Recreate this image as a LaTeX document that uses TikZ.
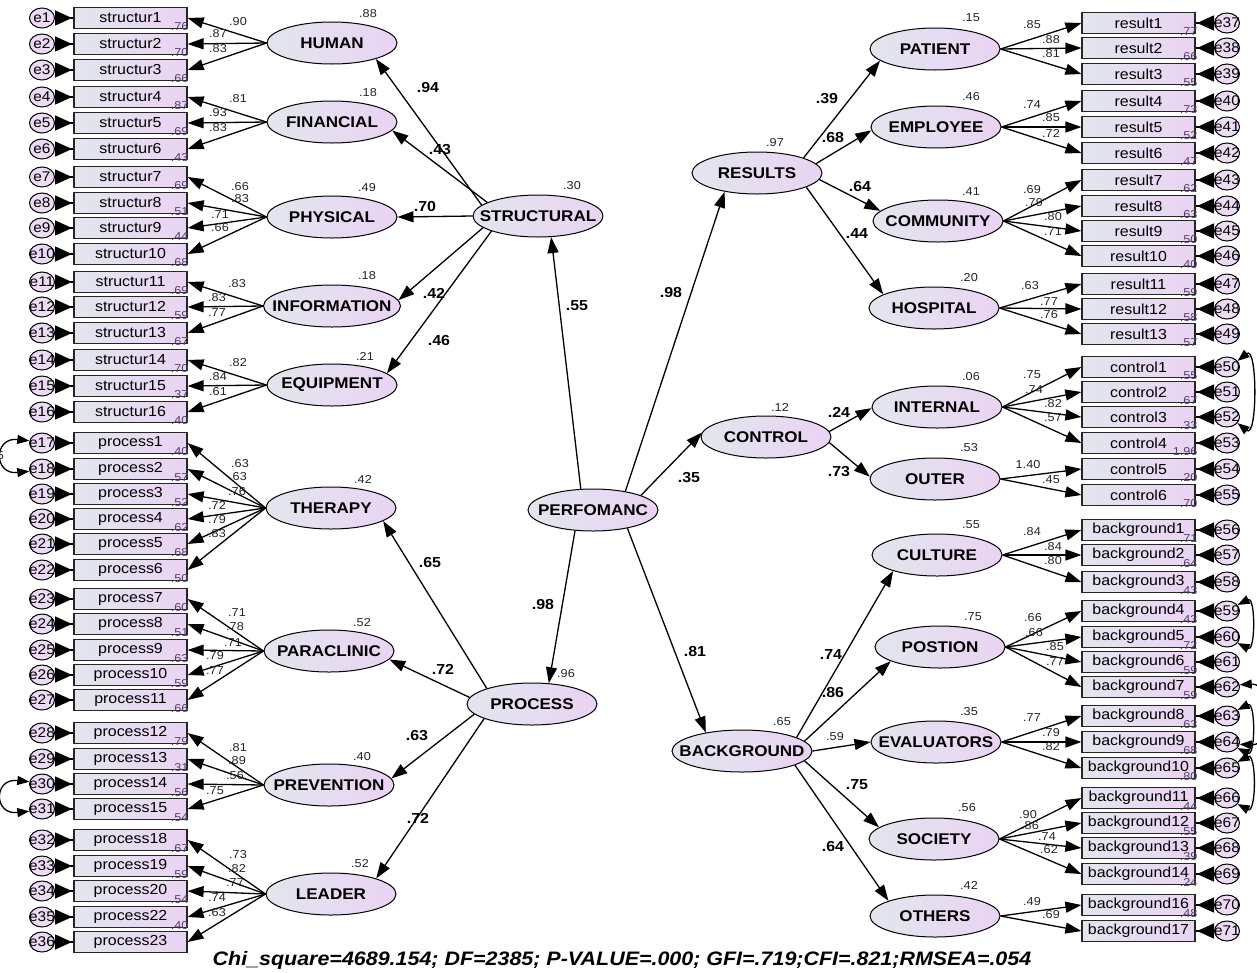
\documentclass[tikz,border=0pt]{standalone}
\usepackage{fontspec}
\setmainfont[FakeStretch=1.1]{Liberation Sans}
\usetikzlibrary{shapes.geometric,arrows.meta}
\definecolor{cL}{RGB}{226,230,238}
\definecolor{cR}{RGB}{234,211,243}
\definecolor{cE}{RGB}{237,218,245}
\definecolor{cRsq}{RGB}{85,65,110}
\definecolor{cT}{RGB}{35,35,35}
\begin{document}
\begin{tikzpicture}[x=1pt,y=-1pt,
  lat/.style={ellipse, draw=black, line width=1pt, left color=cL, right color=cR, minimum height=42pt, minimum width=130pt, inner sep=0pt, font=\fontsize{15.5}{16}\selectfont\bfseries},
  obs/.style={rectangle, draw=black!85, line width=1.2pt, left color=cL, right color=cR, minimum width=113pt, minimum height=21pt, inner sep=0pt, font=\fontsize{14.5}{15}\selectfont},
  err/.style={ellipse, draw=black, line width=1pt, fill=cE, minimum width=25pt, minimum height=20pt, inner sep=0pt, font=\fontsize{14}{14}\selectfont},
  pth/.style={line width=1.3pt, -{Triangle[length=16pt,width=11pt]}},
  errpath/.style={line width=1.3pt, {Triangle[reversed,length=17pt,width=15pt]}-},
  cov/.style={line width=1.3pt, {Triangle[length=12pt,width=9pt]}-{Triangle[length=12pt,width=9pt]}},
  ld/.style={font=\fontsize{11.5}{12}\selectfont, text=cT, inner sep=0pt},
  rsq/.style={font=\fontsize{11.5}{12}\selectfont, text=cRsq, inner sep=0pt, anchor=base east},
  sl/.style={font=\fontsize{14.5}{15}\selectfont\bfseries, inner sep=0pt}
]
\fill[white] (0,0) rectangle (1257,972);
\useasboundingbox (0,0) rectangle (1257,972);

% ---------- latent variables ----------
\node[lat] (HUMAN) at (332,43) {\makebox[0pt]{HUMAN}};
\node[lat] (FINANCIAL) at (332,122) {\makebox[0pt]{FINANCIAL}};
\node[lat] (PHYSICAL) at (332,217) {\makebox[0pt]{PHYSICAL}};
\node[lat, minimum width=137pt] (INFORMATION) at (332,306) {\makebox[0pt]{INFORMATION}};
\node[lat] (EQUIPMENT) at (332,385) {\makebox[0pt]{EQUIPMENT}};
\node[lat] (THERAPY) at (331,508) {\makebox[0pt]{THERAPY}};
\node[lat] (PARACLINIC) at (329,651) {\makebox[0pt]{PARACLINIC}};
\node[lat] (PREVENTION) at (329,785) {\makebox[0pt]{PREVENTION}};
\node[lat] (LEADER) at (331,894) {\makebox[0pt]{LEADER}};
\node[lat] (STRUCTURAL) at (538,216) {\makebox[0pt]{STRUCTURAL}};
\node[lat] (PERFOMANC) at (593,510) {\makebox[0pt]{PERFOMANC}};
\node[lat] (PROCESS) at (532,704) {\makebox[0pt]{PROCESS}};
\node[lat] (RESULTS) at (757,173) {\makebox[0pt]{RESULTS}};
\node[lat] (CONTROL) at (766,437) {\makebox[0pt]{CONTROL}};
\node[lat, minimum width=140pt] (BACKGROUND) at (742,751) {\makebox[0pt]{BACKGROUND}};
\node[lat] (PATIENT) at (935,49) {\makebox[0pt]{PATIENT}};
\node[lat] (EMPLOYEE) at (936,127) {\makebox[0pt]{EMPLOYEE}};
\node[lat] (COMMUNITY) at (938,221) {\makebox[0pt]{COMMUNITY}};
\node[lat] (HOSPITAL) at (934,308) {\makebox[0pt]{HOSPITAL}};
\node[lat] (INTERNAL) at (937,407) {\makebox[0pt]{INTERNAL}};
\node[lat] (OUTER) at (935,479) {\makebox[0pt]{OUTER}};
\node[lat] (CULTURE) at (937,555) {\makebox[0pt]{CULTURE}};
\node[lat] (POSTION) at (940,647) {\makebox[0pt]{POSTION}};
\node[lat] (EVALUATORS) at (936,742) {\makebox[0pt]{EVALUATORS}};
\node[lat] (SOCIETY) at (934,839) {\makebox[0pt]{SOCIETY}};
\node[lat] (OTHERS) at (935,916) {\makebox[0pt]{OTHERS}};

% ---------- latent R-squared ----------
\foreach \n/\v/\x/\y in {HUMAN/.88/368/14, FINANCIAL/.18/368/93, PHYSICAL/.49/367/188, INFORMATION/.18/367/276, EQUIPMENT/.21/365/356, THERAPY/.42/363/479, PARACLINIC/.52/362/623, PREVENTION/.40/362/757, LEADER/.52/360/864, STRUCTURAL/.30/572/186, PROCESS/.96/566/674, RESULTS/.97/775/143, CONTROL/.12/780/407, BACKGROUND/.65/782/722, PATIENT/.15/971/18, EMPLOYEE/.46/971/97, COMMUNITY/.41/971/192, HOSPITAL/.20/969/278, INTERNAL/.06/971/377, OUTER/.53/969/448, CULTURE/.55/971/525, POSTION/.75/973/617, EVALUATORS/.35/969/712, SOCIETY/.56/967/808, OTHERS/.42/969/885}
  \node[ld] (r\n) at (\x,\y) {\v};

% ---------- left indicators ----------
\foreach \i/\t/\y/\r in {1/structur1/18/.76, 2/structur2/44/.70, 3/structur3/70/.66, 4/structur4/97/.87, 5/structur5/123/.69, 6/structur6/149/.43, 7/structur7/177/.69, 8/structur8/203/.51, 9/structur9/228/.44, 10/structur10/254/.68, 11/structur11/282/.69, 12/structur12/307/.59, 13/structur13/333/.67, 14/structur14/360/.70, 15/structur15/386/.37, 16/structur16/412/.40, 17/process1/443/.40, 18/process2/469/.57, 19/process3/494/.52, 20/process4/519/.62, 21/process5/544/.68, 22/process6/570/.50, 23/process7/599/.60, 24/process8/624/.51, 25/process9/650/.63, 26/process10/675/.59, 27/process11/700/.66, 28/process12/733/.79, 29/process13/759/.31, 30/process14/784/.56, 31/process15/809/.54, 32/process18/840/.67, 33/process19/866/.59, 34/process20/891/.54, 35/process22/917/.40, 36/process23/942/{}}
{
  \node[obs] (o\i) at (130.5,\y) {\t};
  \node[err] (e\i) at (42,\y) {\makebox[0pt]{e\i}};
  \draw[errpath] (e\i) -- (o\i);
  \node[rsq] (q\i) at ([shift={(1,1.5)}]o\i.south east) {\r};
}

% ---------- right indicators ----------
\foreach \i/\t/\y/\r in {37/result1/23/.77, 38/result2/48/.66, 39/result3/74/.55, 40/result4/101/.73, 41/result5/127/.52, 42/result6/153/.47, 43/result7/180/.62, 44/result8/206/.63, 45/result9/231/.50, 46/result10/256/.40, 47/result11/284/.59, 48/result12/309/.58, 49/result13/334/.57, 50/control1/367/.55, 51/control2/392/.67, 52/control3/417/.33, 53/control4/443/1.96, 54/control5/469/.20, 55/control6/495/.70, 56/background1/530/.71, 57/background2/555/.64, 58/background3/582/.43, 59/background4/611/.43, 60/background5/637/.72, 61/background6/662/.59, 62/background7/687/.59, 63/background8/716/.63, 64/background9/742/.68, 65/background10/768/.80, 66/background11/798/.44, 67/background12/823/.55, 68/background13/848/.39, 69/background14/874/.24, 70/background16/905/.48, 71/background17/931/{}}
{
  \node[obs] (o\i) at (1138.5,\y) {\t};
  \node[err] (e\i) at (1227,\y) {\makebox[0pt]{e\i}};
  \draw[errpath] (e\i) -- (o\i);
  \node[rsq] (q\i) at ([shift={(2,1.5)}]o\i.south east) {\r};
}

% ---------- left loadings ----------
\foreach \lat/\i/\v/\x/\y in {HUMAN/1/.90/238/22, HUMAN/2/.87/218/34, HUMAN/3/.83/218/49, FINANCIAL/4/.81/238/99, FINANCIAL/5/.93/218/113, FINANCIAL/6/.83/218/128, PHYSICAL/7/.66/240/187, PHYSICAL/8/.83/240/199, PHYSICAL/9/.71/220/215, PHYSICAL/10/.66/220/228, INFORMATION/11/.83/237/284, INFORMATION/12/.83/217/298, INFORMATION/13/.77/217/313, EQUIPMENT/14/.82/238/363, EQUIPMENT/15/.84/218/377, EQUIPMENT/16/.61/218/392, THERAPY/17/.63/240/464, THERAPY/18/.63/238/477, THERAPY/19/.76/237/492, THERAPY/20/.72/217/505, THERAPY/21/.79/217/520, THERAPY/22/.83/217/534, PARACLINIC/23/.71/237/613, PARACLINIC/24/.78/235/627, PARACLINIC/25/.71/233/643, PARACLINIC/26/.79/215/656, PARACLINIC/27/.77/215/671, PREVENTION/28/.81/238/748, PREVENTION/29/.89/237/761, PREVENTION/30/.56/235/776, PREVENTION/31/.75/215/791, LEADER/32/.73/238/855, LEADER/33/.82/237/869, LEADER/34/.77/235/883, LEADER/35/.74/217/898, LEADER/36/.63/217/913}
{
  \draw[pth] (\lat.west) -- (o\i.east);
  \node[ld] (ld\i) at (\x,\y) {\v};
}

% ---------- right loadings ----------
\foreach \lat/\i/\v/\x/\y in {PATIENT/37/.85/1032/25, PATIENT/38/.88/1051/40, PATIENT/39/.81/1051/54, EMPLOYEE/40/.74/1032/105, EMPLOYEE/41/.85/1051/118, EMPLOYEE/42/.72/1051/133, COMMUNITY/43/.69/1032/190, COMMUNITY/44/.79/1034/203, COMMUNITY/45/.80/1053/217, COMMUNITY/46/.71/1053/232, HOSPITAL/47/.63/1030/286, HOSPITAL/48/.77/1049/302, HOSPITAL/49/.76/1049/315, INTERNAL/50/.75/1032/375, INTERNAL/51/.74/1034/390, INTERNAL/52/.82/1053/404, INTERNAL/53/.57/1053/418, OUTER/54/1.40/1028/465, OUTER/55/.45/1051/480, CULTURE/56/.84/1032/532, CULTURE/57/.84/1053/547, CULTURE/58/.80/1053/561, POSTION/59/.66/1033/618, POSTION/60/.66/1034/633, POSTION/61/.85/1055/647, POSTION/62/.77/1055/662, EVALUATORS/63/.77/1032/718, EVALUATORS/64/.79/1051/733, EVALUATORS/65/.82/1051/747, SOCIETY/66/.90/1028/815, SOCIETY/67/.86/1030/826, SOCIETY/68/.74/1047/837, SOCIETY/69/.62/1049/850, OTHERS/70/.49/1032/902, OTHERS/71/.69/1051/915}
{
  \draw[pth] (\lat.east) -- (o\i.west);
  \node[ld] (ld\i) at (\x,\y) {\v};
}

% ---------- structural paths ----------
\draw[pth] (STRUCTURAL.169) -- (HUMAN.-20);
\draw[pth] (STRUCTURAL.165) -- (FINANCIAL.-8);
\draw[pth] (STRUCTURAL.west) -- (PHYSICAL.east);
\draw[pth] (STRUCTURAL.192) -- (INFORMATION.5);
\draw[pth] (STRUCTURAL.198) -- (EQUIPMENT.12);
\draw[pth] (PERFOMANC.120) -- (STRUCTURAL.-58);
\draw[pth] (PERFOMANC.30) -- (RESULTS.210);
\draw[pth] (PERFOMANC.17) -- (CONTROL.176);
\draw[pth] (PERFOMANC.229) -- (PROCESS.51);
\draw[pth] (PERFOMANC.332) -- (BACKGROUND.153);
\draw[pth] (PROCESS.161) -- (THERAPY.346);
\draw[pth] (PROCESS.174) -- (PARACLINIC.352);
\draw[pth] (PROCESS.190) -- (PREVENTION.6);
\draw[pth] (PROCESS.197) -- (LEADER.19);
\draw[pth] (RESULTS.18) -- (PATIENT.192);
\draw[pth] (RESULTS.9) -- (EMPLOYEE.183);
\draw[pth] (RESULTS.-6) -- (COMMUNITY.170);
\draw[pth] (RESULTS.-16) -- (HOSPITAL.165);
\draw[pth] (CONTROL.5) -- (INTERNAL.181);
\draw[pth] (CONTROL.-5) -- (OUTER.178);
\draw[pth] (BACKGROUND.14) -- (CULTURE.200);
\draw[pth] (BACKGROUND.9) -- (POSTION.196);
\draw[pth] (BACKGROUND.0) -- (EVALUATORS.180);
\draw[pth] (BACKGROUND.-9) -- (SOCIETY.168);
\draw[pth] (BACKGROUND.-15) -- (OTHERS.162);

\node[sl] (s1) at (428,88) {.94};
\node[sl] (s2) at (440,150) {.43};
\node[sl] (s3) at (425,207) {.70};
\node[sl] (s4) at (434,293) {.42};
\node[sl] (s5) at (439,341) {.46};
\node[sl] (s6) at (577,306) {.55};
\node[sl] (s7) at (671,293) {.98};
\node[sl] (s8) at (689,478) {.35};
\node[sl] (s9) at (543,604) {.98};
\node[sl] (s10) at (695,651) {.81};
\node[sl] (s11) at (430,562) {.65};
\node[sl] (s12) at (443,669) {.72};
\node[sl] (s13) at (417,736) {.63};
\node[sl] (s14) at (418,818) {.72};
\node[sl] (s15) at (827,99) {.39};
\node[sl] (s16) at (833,138) {.68};
\node[sl] (s17) at (860,187) {.64};
\node[sl] (s18) at (857,234) {.44};
\node[sl] (s19) at (839,412) {.24};
\node[sl] (s20) at (839,472) {.73};
\node[sl] (s21) at (831,655) {.74};
\node[sl] (s22) at (833,692) {.86};
\node[ld] (s23) at (835,737) {.59};
\node[sl] (s24) at (857,785) {.75};
\node[sl] (s25) at (833,846) {.64};

% ---------- covariances ----------
\draw[cov] (e17.170) .. controls +(-36,-4) and +(-36,4) .. (e18.190);
\node[ld, anchor=east] (c1) at (4,456) {5};
\draw[cov] (e30.170) .. controls +(-36,-4) and +(-36,4) .. (e31.190);
\draw[cov] (e50.30) .. controls +(20,-16) and +(20,16) .. (e52.-30);
\draw[cov] (e59.30) .. controls +(18,-9) and +(18,9) .. (e60.-30);
\draw[cov] (e62.10) .. controls +(34,-2) and +(34,2) .. (e64.-10);
\draw[cov] (e63.30) .. controls +(18,-9) and +(18,9) .. (e64.-30);
\draw[cov] (e65.30) .. controls +(19,-10) and +(19,10) .. (e66.-30);

% ---------- fit ----------
\node[font=\fontsize{19.5}{20}\selectfont\bfseries\itshape] (fit) at (622,960) {Chi\_square=4689.154; DF=2385; P-VALUE=.000; GFI=.719;CFI=.821;RMSEA=.054};
\end{tikzpicture}
\end{document}
